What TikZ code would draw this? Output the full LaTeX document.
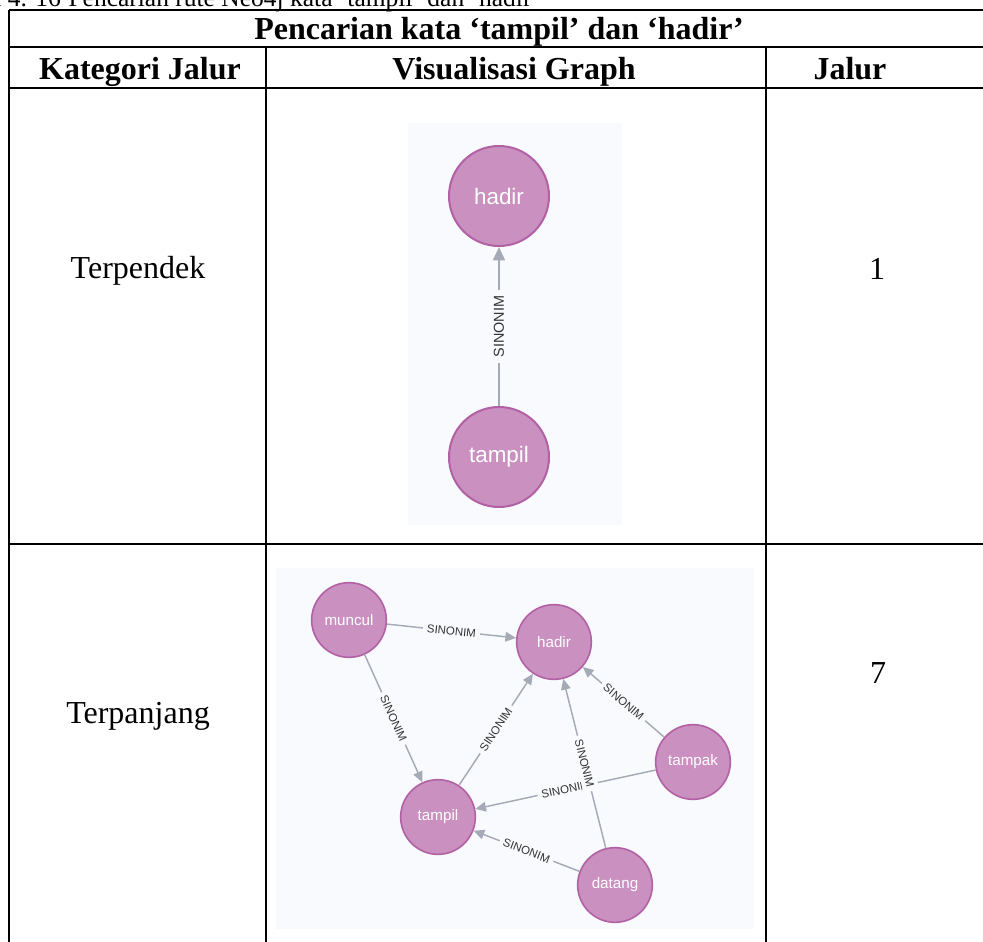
\documentclass[tikz,border=0pt]{standalone}
\usepackage{fontspec}
\setmainfont{Liberation Serif}
\newfontfamily\graphfont{Liberation Sans}
\usetikzlibrary{arrows.meta}
\definecolor{canvas}{HTML}{F9FAFD}
\definecolor{nodefill}{HTML}{C990C0}
\definecolor{nodeline}{HTML}{B261A5}
\definecolor{edgegray}{HTML}{A5ABB6}
\definecolor{labelgray}{HTML}{333333}
\begin{document}
\begin{tikzpicture}[x=0.375pt,y=-0.375pt,
  rule/.style={line width=0.75pt, black},
  head/.style={font=\fontsize{12}{14}\selectfont\bfseries, anchor=base, inner sep=0},
  body/.style={font=\fontsize{12}{14}\selectfont, anchor=base, inner sep=0},
  bignode/.style={circle, fill=nodefill, draw=nodeline, line width=0.75pt,
    minimum size=37.5pt, inner sep=0, text=white,
    font=\graphfont\fontsize{8.4}{10}\selectfont},
  smallnode/.style={circle, fill=nodefill, draw=nodeline, line width=0.6pt,
    minimum size=28pt, inner sep=0, text=white,
    font=\graphfont\fontsize{5.7}{7}\selectfont},
  bigedge/.style={draw=edgegray, line width=0.65pt, -{Triangle[length=5pt,width=4.5pt]}},
  smalledge/.style={draw=edgegray, line width=0.55pt, -{Triangle[length=4pt,width=3.6pt]}},
  biglabel/.style={fill=canvas, text=labelgray, inner sep=2pt, midway,
    font=\graphfont\fontsize{5.4}{6}\selectfont},
  smalllabel/.style={fill=canvas, text=labelgray, inner sep=1.5pt, midway, sloped,
    font=\graphfont\fontsize{4.3}{5}\selectfont},
]
\useasboundingbox (0,0) rectangle (983,942);

% caption line above the table
\node[anchor=base east, inner sep=0, font=\fontsize{9.56}{11}\selectfont] (capnum) at (61.5,7) {Tabel 4. 16};
\node[anchor=base west, inner sep=0, font=\fontsize{9.56}{11}\selectfont] (captext) at (68,7)
  {Pencarian rute Neo4j kata ‘tampil’ dan ‘hadir’};

% graph canvases
\fill[canvas] (408,123) rectangle (622,525);
\fill[canvas] (276,568) rectangle (754,929);

% table rules
\draw[rule] (9,10) -- (995,10);
\draw[rule] (9,47) -- (995,47);
\draw[rule] (9,88) -- (995,88);
\draw[rule] (9,544) -- (995,544);
\draw[rule] (9,10) -- (9,950);
\draw[rule] (266,47) -- (266,950);
\draw[rule] (766,47) -- (766,950);

% table texts
\node[head] (title) at (499,39) {Pencarian kata ‘tampil’ dan ‘hadir’};
\node[head] (hcat) at (140,79) {Kategori Jalur};
\node[head] (hvis) at (514,79) {Visualisasi Graph};
\node[head] (hjal) at (850,79) {Jalur};
\node[body] (short) at (138,278) {Terpendek};
\node[body] (shortn) at (877,279) {1};
\node[body] (long) at (138,723) {Terpanjang};
\node[body] (longn) at (878,683) {7};

% shortest path graph
\node[bignode] (h1) at (499,196) {hadir};
\node[bignode] (t1) at (499,457) {tampil};
\draw[bigedge] (t1) -- node[biglabel, rotate=90] (l1) {SINONIM} (h1);

% longest path graph
\node[smallnode] (mun) at (349,620) {muncul};
\node[smallnode] (had) at (554,642) {hadir};
\node[smallnode] (tpk) at (693,762) {tampak};
\node[smallnode] (tpl) at (438,817) {tampil};
\node[smallnode] (dtg) at (615,885) {datang};

\draw[smalledge] (mun) -- node[smalllabel] (e1) {SINONIM} (had);
\draw[smalledge] (mun) -- node[smalllabel] (e2) {SINONIM} (tpl);
\draw[smalledge] (tpl) -- node[smalllabel] (e3) {SINONIM} (had);
\draw[smalledge] (tpk) -- node[smalllabel] (e4) {SINONIM} (had);
\draw[smalledge] (tpk) -- node[smalllabel] (e5) {SINONIM} (tpl);
\draw[smalledge] (dtg) -- node[smalllabel] (e6) {SINONIM} (had);
\draw[smalledge] (dtg) -- node[smalllabel] (e7) {SINONIM} (tpl);
\end{tikzpicture}
\end{document}
